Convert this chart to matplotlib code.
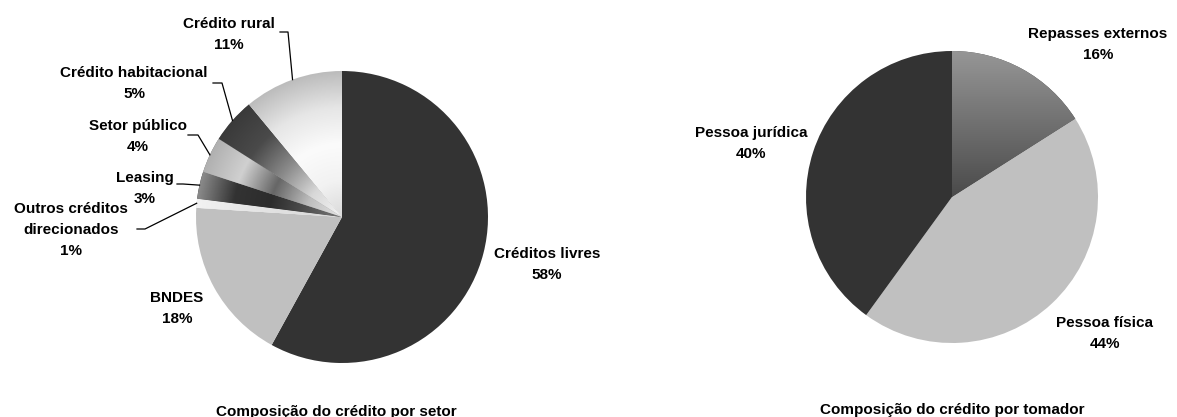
import numpy as np
import matplotlib
matplotlib.use("Agg")
import matplotlib.pyplot as plt
from matplotlib.colors import LinearSegmentedColormap

# ---- data -------------------------------------------------------------
setor_labels = ["Créditos livres", "BNDES", "Outros créditos\ndirecionados",
                "Leasing", "Setor público", "Crédito habitacional", "Crédito rural"]
setor_values = [58, 18, 1, 3, 4, 5, 11]

tomador_labels = ["Repasses externos", "Pessoa física", "Pessoa jurídica"]
tomador_values = [16, 44, 40]

title_setor = "Composição do crédito por setor"
title_tomador = "Composição do crédito por tomador"

# ---- figure / canvas (pixel-like coordinates, origin bottom-left) -----
W, H = 1177, 417
fig = plt.figure(figsize=(W / 100, H / 100), dpi=100)
ax = fig.add_axes([0, 0, 1, 1])

FONT = dict(family="Liberation Sans", weight="bold", size=11, color="black")
LINE_STEP = 21  # baseline-to-baseline distance of stacked label lines


def top(y):
    """Convert a top-down pixel row to the axis' bottom-up coordinate."""
    return H - y


# fill styles: solid colours or gradient stops (outer rim -> centre)
setor_fills = [
    "#333333",
    "#c0c0c0",
    ("radial", ["#f2f2f2", "#e2e2e2", "#d6d6d6"]),
    ("radial", ["#8a8a8a", "#333333", "#2c2c2c", "#505050", "#7a7a7a"]),
    ("radial", ["#b0b0b0", "#d0d0d0", "#666666", "#bdbdbd", "#e6e6e6"]),
    ("radial", ["#3a3a3a", "#4a4a4a", "#8a8a8a", "#d8d8d8", "#f4f4f4"]),
    ("radial", ["#bcbcbc", "#e6e6e6", "#fbfbfb", "#f2f2f2", "#dadada"]),
]
tomador_fills = [
    ("vertical", ["#969696", "#4a4a4a"]),
    "#c0c0c0",
    "#333333",
]


def base_color(fill):
    return fill if isinstance(fill, str) else fill[1][len(fill[1]) // 2]


def draw_pie(values, fills, center, radius):
    wedges, _ = ax.pie(values, colors=[base_color(f) for f in fills],
                       startangle=90, counterclock=False, center=center,
                       radius=radius, wedgeprops=dict(linewidth=0))
    cx, cy = center
    n = 500
    xs = np.linspace(cx - radius, cx + radius, n)
    ys = np.linspace(cy - radius, cy + radius, n)
    X, Y = np.meshgrid(xs, ys)
    for wedge, fill in zip(wedges, fills):
        if isinstance(fill, str):
            continue
        kind, stops = fill
        if kind == "radial":
            val = 1 - np.clip(np.hypot(X - cx, Y - cy) / radius, 0, 1)
        else:
            val = np.clip((cy + radius - Y) / radius, 0, 1)
        cmap = LinearSegmentedColormap.from_list("fill", stops)
        im = ax.imshow(val, cmap=cmap, vmin=0, vmax=1, origin="lower",
                       extent=(cx - radius, cx + radius, cy - radius, cy + radius),
                       interpolation="bilinear", zorder=wedge.get_zorder() + 0.1)
        im.set_clip_path(wedge)
    # mid-angle of each wedge (clockwise from 12 o'clock)
    frac = np.array(values, dtype=float) / np.sum(values)
    ends = 90 - 360 * np.cumsum(frac)
    starts = ends + 360 * frac
    mids = np.deg2rad((starts + ends) / 2)
    return [(cx + radius * np.cos(a), cy + radius * np.sin(a)) for a in mids]


def label(text, cx, first_baseline):
    for i, line in enumerate(text.split("\n")):
        ax.text(cx, top(first_baseline + i * LINE_STEP), line,
                ha="center", va="baseline", **FONT)


# ---- left pie: by sector ---------------------------------------------
left_center = (342, top(217))
rim_left = draw_pie(setor_values, setor_fills, left_center, 146)

setor_label_pos = [(547, 258), (177, 302), (71, 213), (145, 182),
                   (138, 130), (134, 77), (229, 28)]
for name, val, (x, b) in zip(setor_labels, setor_values, setor_label_pos):
    label(f"{name}\n{val}%", x, b)

# leader lines: label side elbow -> rim at wedge mid-angle
leaders_left = {2: [(137, 229), (145, 229)],
                3: [(177, 184), (183, 184)],
                4: [(188, 135), (198, 135)],
                5: [(213, 83), (222, 83)],
                6: [(280, 32), (288, 32)]}
for idx, pts in leaders_left.items():
    xs = [p[0] for p in pts] + [rim_left[idx][0]]
    ys = [top(p[1]) for p in pts] + [rim_left[idx][1]]
    ax.plot(xs, ys, color="black", lw=0.9, zorder=5)

# ---- right pie: by borrower ------------------------------------------
right_center = (952, top(197))
draw_pie(tomador_values, tomador_fills, right_center, 146)

tomador_label_pos = [(1098, 38), (1105, 327), (751, 137)]
for name, val, (x, b) in zip(tomador_labels, tomador_values, tomador_label_pos):
    label(f"{name}\n{val}%", x, b)

# ---- titles ------------------------------------------------------------
ax.text(336, top(416), title_setor, ha="center", va="baseline", **FONT)
ax.text(952, top(414), title_tomador, ha="center", va="baseline", **FONT)

ax.set_xlim(0, W)
ax.set_ylim(0, H)
ax.set_aspect("auto")
ax.axis("off")
fig.savefig("out.png", dpi=100, facecolor="white")
